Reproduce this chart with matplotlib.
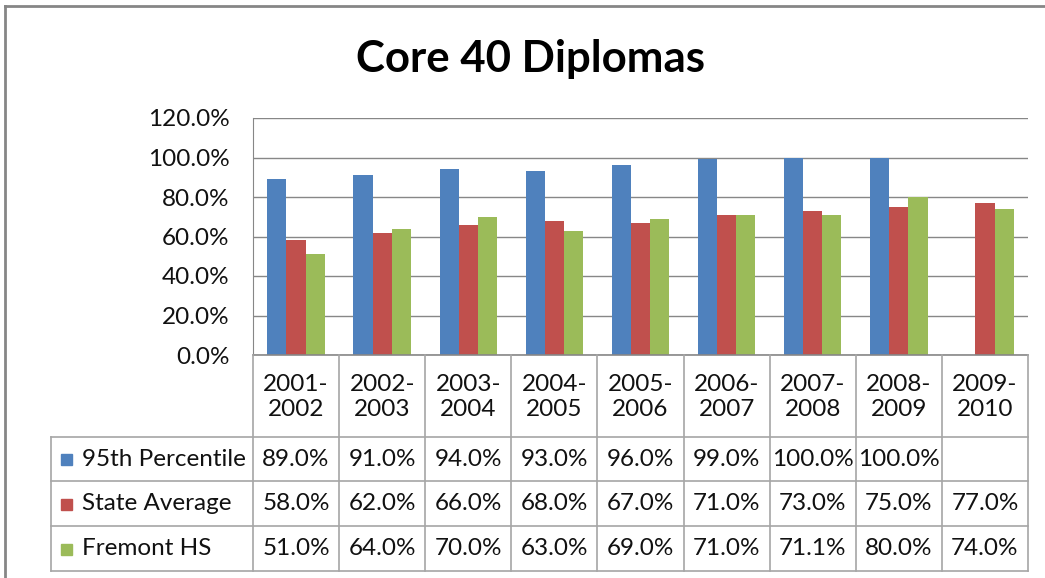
import numpy as np
import matplotlib
matplotlib.use("Agg")
import matplotlib.pyplot as plt
from matplotlib.patches import Rectangle

plt.rcParams['font.family'] = ['Lato', 'DejaVu Sans']

# data
years = ['2001-\n2002', '2002-\n2003', '2003-\n2004', '2004-\n2005', '2005-\n2006',
         '2006-\n2007', '2007-\n2008', '2008-\n2009', '2009-\n2010']
series_names = ['95th Percentile', 'State Average', 'Fremont HS']
pct_95th = [89.0, 91.0, 94.0, 93.0, 96.0, 99.0, 100.0, 100.0, np.nan]
state_avg = [58.0, 62.0, 66.0, 68.0, 67.0, 71.0, 73.0, 75.0, 77.0]
fremont = [51.0, 64.0, 70.0, 63.0, 69.0, 71.0, 71.1, 80.0, 74.0]
colors = ['#4F81BD', '#C0504D', '#9BBB59']
yticks = [0, 20, 40, 60, 80, 100, 120]

W, H = 1045, 578
fs = 17.5
txt_c = '#111111'
fig = plt.figure(figsize=(W / 100, H / 100), dpi=100)

def px_box(x0, y0, x1, y1):
    # pixel box (top-left origin) -> figure fraction [left, bottom, width, height]
    return [x0 / W, 1 - y1 / H, (x1 - x0) / W, (y1 - y0) / H]

# outer chart border (cut at right and bottom)
fig.add_artist(plt.Line2D([5 / W, 1], [1 - 6 / H, 1 - 6 / H], color='#868686', lw=2))
fig.add_artist(plt.Line2D([5 / W, 5 / W], [0, 1 - 6 / H], color='#868686', lw=2))

fig.text(531 / W, 1 - 59 / H, 'Core 40 Diplomas', ha='center', va='center',
         fontsize=31.5, fontweight='bold', color='black')

# plot area
ax = fig.add_axes(px_box(253, 118, 1028, 355))
n = len(years)
x = np.arange(n)
bw = 1 / 4.5
all_series = [pct_95th, state_avg, fremont]
for i, (vals, c) in enumerate(zip(all_series, colors)):
    ax.bar(x + (i - 1) * bw, vals, width=bw, color=c, zorder=3)

ax.set_xlim(-0.5, n - 0.5)
ax.set_ylim(0, 120)
ax.set_yticks(yticks)
ax.set_yticklabels(['%.1f%%' % v for v in yticks], fontsize=fs, color=txt_c)
ax.tick_params(axis='y', length=0, pad=17)
ax.set_xticks([])
ax.yaxis.grid(True, color='#878787', lw=1, zorder=0)
for s in ['top', 'right', 'bottom']:
    ax.spines[s].set_visible(False)
ax.spines['left'].set_color('#878787')

# data table below the plot, shares the category scale
tax = fig.add_axes(px_box(51, 355, 1028, 571))
left_lim = -0.5 - (253 - 51) / (775 / n)
tax.set_xlim(left_lim, n - 0.5)
tax.set_ylim(216, 0)
tax.axis('off')
grid_c = '#A6A6A6'
rows = [0, 82, 126, 171, 216]

# horizontal lines
tax.plot([-0.5, n - 0.5], [0, 0], color='#878787', lw=1.2, clip_on=False)
for yy in rows[1:]:
    tax.plot([left_lim, n - 0.5], [yy, yy], color=grid_c, lw=1.2, clip_on=False)
# vertical lines
for k in range(n + 1):
    tax.plot([k - 0.5, k - 0.5], [0, rows[-1]], color=grid_c, lw=1.2, clip_on=False)
tax.plot([left_lim, left_lim], [rows[1], rows[-1]], color=grid_c, lw=1.2, clip_on=False)

for k, lab in enumerate(years):
    tax.text(k, rows[1] / 2 + 1, lab, ha='center', va='center', fontsize=fs,
             linespacing=1.25, color=txt_c)

for r, (name, vals, c) in enumerate(zip(series_names, all_series, colors)):
    yc = (rows[r + 1] + rows[r + 2]) / 2
    tax.add_patch(Rectangle((left_lim + 10 / 86.1, yc - 5), 11 / 86.1, 11,
                            color=c, clip_on=False))
    tax.text(left_lim + 31 / 86.1, yc, name, ha='left', va='center', fontsize=fs,
             color=txt_c)
    for k, v in enumerate(vals):
        if np.isnan(v):
            continue
        tax.text(k, yc, '%.1f%%' % v, ha='center', va='center', fontsize=fs,
                 color=txt_c)

fig.savefig('out.png', dpi=100)
